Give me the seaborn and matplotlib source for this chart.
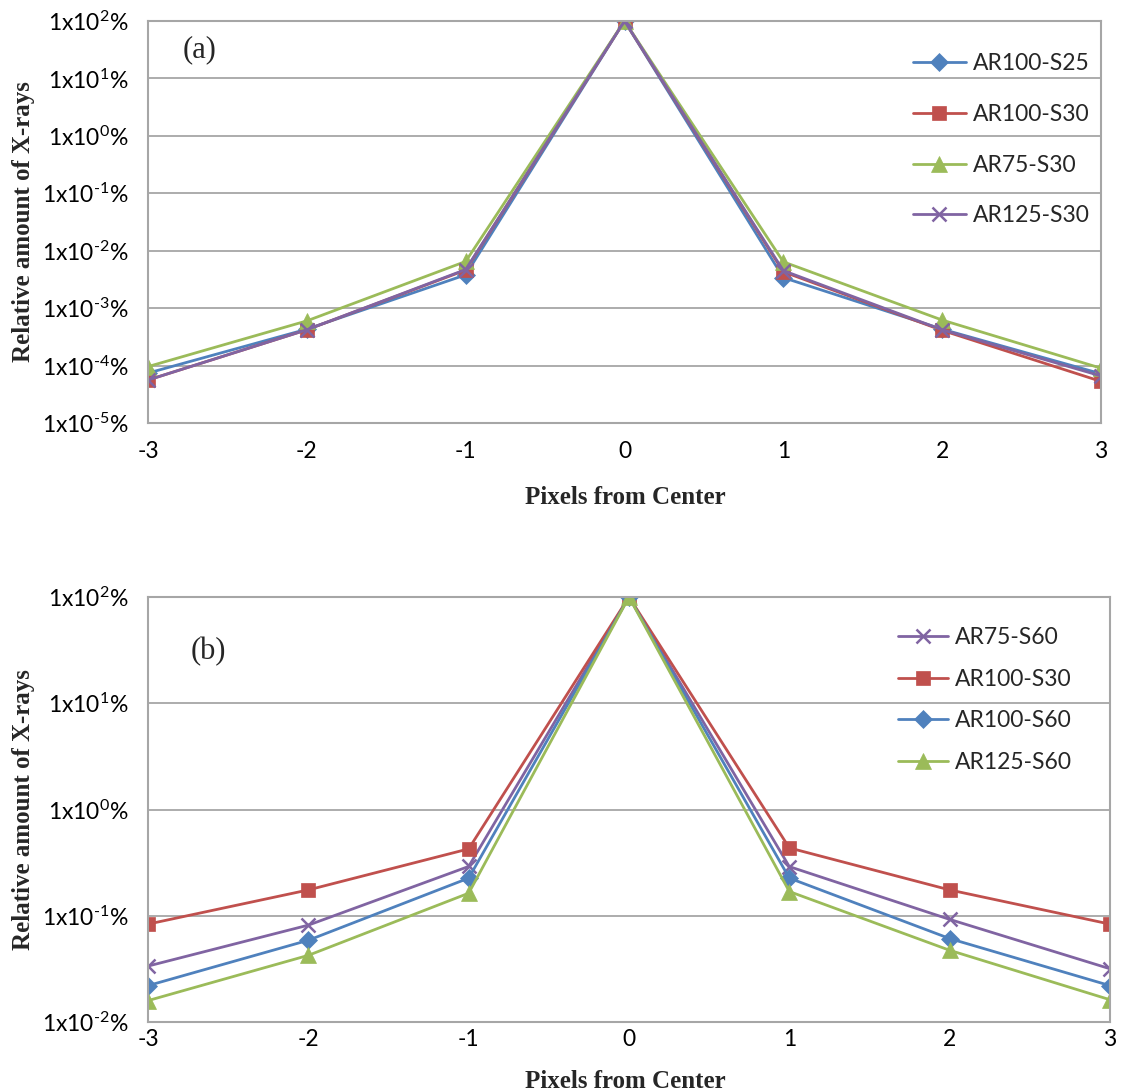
import numpy as np
import pandas as pd
import matplotlib
matplotlib.use("Agg")
import matplotlib.pyplot as plt
import seaborn as sns

# ---------------- data ----------------
pixels = [-3, -2, -1, 0, 1, 2, 3]

# panel (a)
a_names = ["AR100-S25", "AR100-S30", "AR75-S30", "AR125-S30"]
a_ar100_s25 = [7.4e-5, 4.3e-4, 3.8e-3, 100, 3.4e-3, 4.3e-4, 7.2e-5]
a_ar100_s30 = [5.6e-5, 4.2e-4, 4.6e-3, 100, 4.3e-3, 4.1e-4, 5.3e-5]
a_ar75_s30 = [9.6e-5, 6.0e-4, 6.5e-3, 100, 6.4e-3, 6.2e-4, 9.0e-5]
a_ar125_s30 = [5.6e-5, 4.2e-4, 4.7e-3, 100, 4.5e-3, 4.2e-4, 6.6e-5]

# panel (b)
b_names = ["AR75-S60", "AR100-S30", "AR100-S60", "AR125-S60"]
b_ar75_s60 = [0.0336, 0.0816, 0.291, 100, 0.290, 0.0924, 0.0317]
b_ar100_s30 = [0.0834, 0.175, 0.426, 100, 0.435, 0.175, 0.0834]
b_ar100_s60 = [0.0220, 0.0588, 0.226, 100, 0.226, 0.0610, 0.0220]
b_ar125_s60 = [0.0159, 0.0424, 0.163, 100, 0.169, 0.0473, 0.0162]

a_ticks = [-5, -4, -3, -2, -1, 0, 1, 2]
b_ticks = [-2, -1, 0, 1, 2]

# ---------------- style ----------------
sns.set_theme(style="white")
plt.rcParams["font.family"] = ["Lato", "DejaVu Sans"]
plt.rcParams["mathtext.fontset"] = "custom"
plt.rcParams["mathtext.rm"] = "Lato"
plt.rcParams["mathtext.it"] = "Lato:italic"
plt.rcParams["mathtext.bf"] = "Lato:bold"

BLUE = "#4F81BD"
RED = "#C0504D"
GREEN = "#9BBB59"
PURPLE = "#8064A2"
GRID = "#A6A6A6"

W, H = 1123, 1092
fig = plt.figure(figsize=(W / 100, H / 100), dpi=100)

def fx(px):
    return px / W

def fy(py):
    return 1 - py / H

ax_a = fig.add_axes([fx(148), fy(423), fx(1101 - 148), (423 - 21) / H])
ax_b = fig.add_axes([fx(148), fy(1022), fx(1110 - 148), (1022 - 597) / H])

styles = {
    "AR100-S25": dict(color=BLUE, marker="D", ms=9),
    "AR100-S30": dict(color=RED, marker="s", ms=10),
    "AR75-S30": dict(color=GREEN, marker="^", ms=11),
    "AR125-S30": dict(color=PURPLE, marker="x", ms=10),
    "AR75-S60": dict(color=PURPLE, marker="x", ms=10),
    "AR100-S60": dict(color=BLUE, marker="D", ms=9),
    "AR125-S60": dict(color=GREEN, marker="^", ms=11),
}

def draw(ax, names, series):
    for name, vals in zip(names, series):
        st = styles[name]
        df = pd.DataFrame({"x": pixels, "y": vals})
        sns.lineplot(data=df, x="x", y="y", ax=ax, color=st["color"],
                     marker=st["marker"], markersize=st["ms"],
                     markeredgecolor=st["color"], markerfacecolor=st["color"],
                     markeredgewidth=1.8 if st["marker"] == "x" else 0.5,
                     linewidth=2.0, label=name)

draw(ax_a, a_names, [a_ar100_s25, a_ar100_s30, a_ar75_s30, a_ar125_s30])
draw(ax_b, b_names, [b_ar75_s60, b_ar100_s30, b_ar100_s60, b_ar125_s60])

def exp_label(e):
    s = str(e).replace("-", r"\text{-}")
    return r"1x10$^{\mathregular{%s}}$%%" % s

def fmt_axes(ax, exps, xpad):
    ax.set_yscale("log")
    ax.set_ylim(10.0 ** exps[0], 10.0 ** exps[-1])
    ax.set_xlim(-3, 3)
    ax.set_xticks(pixels)
    ax.set_xticklabels([str(p) for p in pixels])
    ax.set_yticks([10.0 ** e for e in exps])
    ax.set_yticklabels([exp_label(e) for e in exps])
    ax.yaxis.set_minor_locator(matplotlib.ticker.NullLocator())
    ax.grid(True, axis="y", color=GRID, linewidth=1.3)
    ax.grid(False, axis="x")
    for sp in ax.spines.values():
        sp.set_color(GRID)
        sp.set_linewidth(1.5)
    ax.tick_params(axis="both", length=0, labelsize=16.5, colors="black")
    ax.tick_params(axis="x", pad=xpad)
    ax.tick_params(axis="y", pad=14)
    ax.set_xlabel("Pixels from Center", fontsize=18, fontweight="bold",
                  family=["Liberation Serif"])
    ax.set_ylabel("Relative amount of X-rays", fontsize=18, fontweight="bold",
                  family=["Liberation Serif"])
    ax.xaxis.label.set_va("center")
    ax.yaxis.label.set_va("center")
    ax.set_facecolor("white")

fmt_axes(ax_a, a_ticks, 13)
fmt_axes(ax_b, b_ticks, 5)

ax_a.xaxis.set_label_coords((625 - 148) / (1101 - 148), (423 - 497) / (423 - 21))
ax_a.yaxis.set_label_coords((24 - 148) / (1101 - 148), 0.5)
ax_b.xaxis.set_label_coords((625 - 148) / (1110 - 148), (1022 - 1082) / (1022 - 597))
ax_b.yaxis.set_label_coords((24 - 148) / (1110 - 148), 0.5)

ax_a.legend(loc="upper left", bbox_to_anchor=(fx(913), fy(53)),
            bbox_transform=fig.transFigure, frameon=False, fontsize=16.5,
            handlelength=2.3, handletextpad=0.3, labelspacing=1.3,
            borderpad=0, borderaxespad=0)
ax_b.legend(loc="upper left", bbox_to_anchor=(fx(898), fy(627)),
            bbox_transform=fig.transFigure, frameon=False, fontsize=16.5,
            handlelength=2.2, handletextpad=0.3, labelspacing=0.9,
            borderpad=0, borderaxespad=0)

fig.text(fx(200), fy(50), "(a)", fontsize=22, family=["Liberation Serif"],
         ha="center", va="center")
fig.text(fx(208), fy(652), "(b)", fontsize=22, family=["Liberation Serif"],
         ha="center", va="center")

fig.savefig("out.png", dpi=100, facecolor="white")
